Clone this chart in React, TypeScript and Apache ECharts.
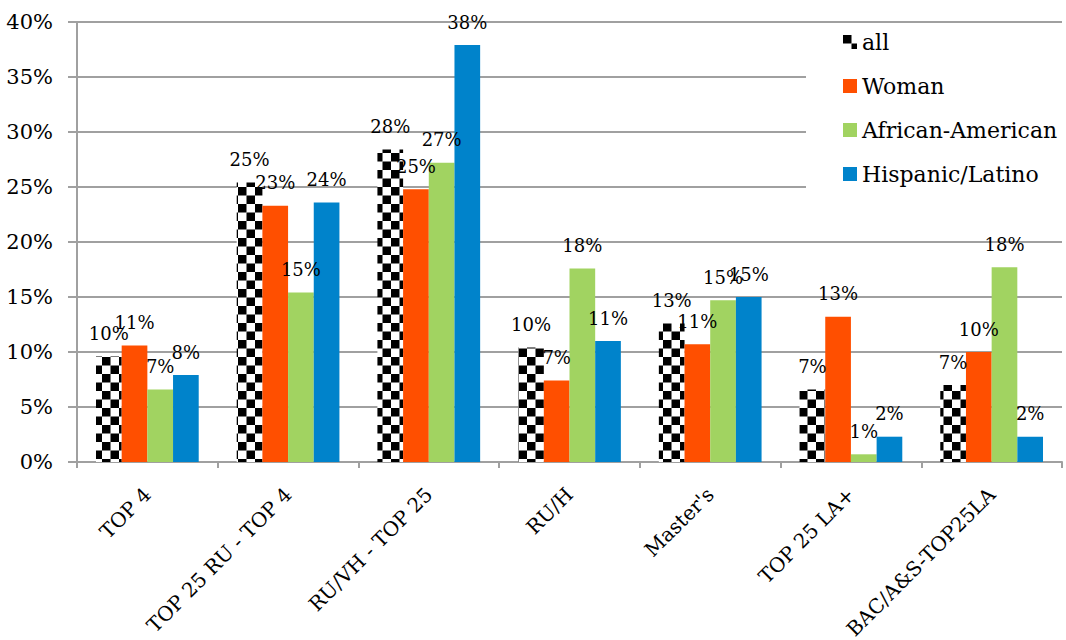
import { useEffect, useRef } from 'react';
import * as echarts from 'echarts';

// Share of graduates by institution type (percent)
const categories = [
  'TOP 4',
  'TOP 25 RU - TOP 4',
  'RU/VH - TOP 25',
  'RU/H',
  "Master's",
  'TOP 25 LA+',
  'BAC/A&S-TOP25LA',
];
const seriesNames = ['all', 'Woman', 'African-American', 'Hispanic/Latino'];
const allValues = [9.6, 25.4, 28.4, 10.4, 12.6, 6.6, 7.0];
const womanValues = [10.6, 23.3, 24.8, 7.4, 10.7, 13.2, 10.0];
const africanAmericanValues = [6.6, 15.4, 27.2, 17.6, 14.7, 0.7, 17.7];
const hispanicLatinoValues = [7.9, 23.6, 37.9, 11.0, 15.0, 2.3, 2.3];
const yMin = 0;
const yMax = 40;
const yStep = 5;

const FONT = '"DejaVu Serif", serif';

function checkerTile(): HTMLCanvasElement {
  const size = 17;
  const c = document.createElement('canvas');
  c.width = size;
  c.height = size;
  const ctx = c.getContext('2d')!;
  ctx.fillStyle = '#ffffff';
  ctx.fillRect(0, 0, size, size);
  ctx.fillStyle = '#000000';
  ctx.fillRect(0, 0, size / 2, size / 2);
  ctx.fillRect(size / 2, size / 2, size / 2, size / 2);
  return c;
}

export default function App() {
  const ref = useRef<HTMLDivElement>(null);

  useEffect(() => {
    if (!ref.current) return;
    const chart = echarts.init(ref.current, undefined, { renderer: 'svg' });
    const checker: any = {
      image: checkerTile(),
      repeat: 'repeat',
      imageWidth: 17,
      imageHeight: 17,
    };

    const label = {
      show: true,
      position: 'top' as const,
      distance: 14,
      color: '#000',
      fontFamily: FONT,
      fontSize: 18,
      formatter: (p: any) => `${Math.round(p.value)}%`,
    };

    const colors = [checker, '#FF4F00', '#A1D361', '#0083CB'];
    const values = [allValues, womanValues, africanAmericanValues, hispanicLatinoValues];

    chart.setOption({
      animation: false,
      backgroundColor: '#ffffff',
      grid: {
        left: 77,
        right: 4,
        top: 22,
        bottom: 178,
        containLabel: false,
        outerBoundsMode: 'none',
      },
      legend: {
        orient: 'vertical',
        left: 806,
        top: 24,
        padding: [7, 12, 10, 37],
        backgroundColor: '#ffffff',
        itemWidth: 14,
        itemHeight: 14,
        itemGap: 22,
        icon: 'rect',
        textStyle: { fontFamily: FONT, fontSize: 22, color: '#000', lineHeight: 22 },
        data: seriesNames,
      },
      xAxis: {
        type: 'category',
        data: categories,
        axisLine: { lineStyle: { color: '#A0A0A0', width: 2 } },
        axisTick: { show: true, length: 6, lineStyle: { color: '#A0A0A0', width: 2 } },
        axisLabel: {
          rotate: 45,
          interval: 0,
          margin: 29,
          color: '#000',
          fontFamily: FONT,
          fontSize: 20,
        },
      },
      yAxis: {
        type: 'value',
        min: yMin,
        max: yMax,
        interval: yStep,
        axisLine: { show: true, lineStyle: { color: '#A0A0A0', width: 2 } },
        axisTick: { show: true, length: 9, lineStyle: { color: '#A0A0A0', width: 2 } },
        splitLine: { lineStyle: { color: '#A0A0A0', width: 2 } },
        axisLabel: {
          margin: 24,
          color: '#000',
          fontFamily: FONT,
          fontSize: 21,
          formatter: (v: number) => `${v}%`,
        },
      },
      series: seriesNames.map((name, i) => ({
        name,
        type: 'bar',
        data: values[i],
        barGap: '0%',
        barCategoryGap: '27%',
        itemStyle: { color: colors[i] },
        label,
      })),
    });

    return () => chart.dispose();
  }, []);

  return (
    <div
      ref={ref}
      style={{ position: 'fixed', left: 0, top: 0, width: 1066, height: 640, background: '#fff' }}
    />
  );
}
